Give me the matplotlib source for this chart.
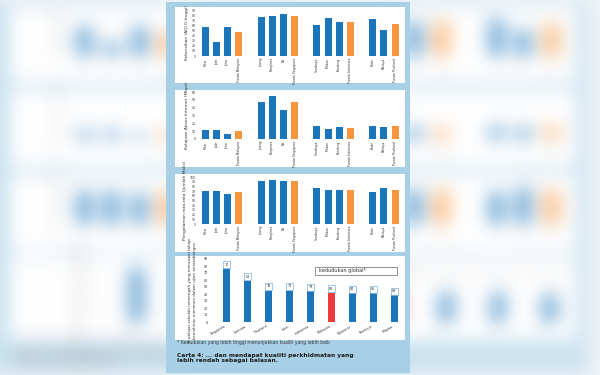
import matplotlib
matplotlib.use("Agg")
import matplotlib.pyplot as plt
import numpy as np
from matplotlib.patches import Rectangle

# Data (labels are too blurred to read exactly).
city_groups = [
    ["Muar", "Ipoh", "Johor", "Purata Malaysia"],
    ["Jurong", "Tampines", "NS", "Purata Singapura"],
    ["Surabaya", "Medan", "Bandung", "Purata Indonesia"],
    ["Krabi", "Pattaya", "Purata Thailand"],
]
kebersihan = [[56, 28, 56, 46], [76, 78, 82, 79], [60, 74, 67, 67], [73, 51, 63]]
internet = [[12, 12, 7, 10], [47, 55, 37, 47], [16, 13, 15, 14], [17, 15, 16]]
pengalaman = [[71, 71, 64, 69], [91, 93, 91, 92], [77, 72, 72, 73], [69, 77, 73]]

countries = ["Singapura", "Vietnam", "Thailand", "Laos", "Indonesia",
             "Malaysia", "Myanmar", "Kemboja", "Filipina"]
scores = [76, 59, 45, 45, 44, 42, 41, 41, 38]
ranks = ["17", "53", "78", "73", "79", "83", "84", "85", "89"]

BLUE = "#1b75bb"
ORANGE = "#f7953d"
RED = "#ec3b3b"
PANEL = "#a7cfe6"
TXT = "#333333"
W, H = 600, 375
CX = 288


def rect(x0, y0, x1, y1, stretch):
    # pixel box (top-down) -> figure fraction, stretched around CX
    a = CX + (x0 - CX) * stretch
    b = CX + (x1 - CX) * stretch
    return [a / W, 1 - y1 / H, (b - a) / W, (y1 - y0) / H]


def city_chart(fig, box, values, ymax, ylabel):
    ax = fig.add_axes(box)
    ax.patch.set_alpha(0)
    xs, labels, colors, hs = [], [], [], []
    for g, (names, vals) in enumerate(zip(city_groups, values)):
        for j, (n, v) in enumerate(zip(names, vals)):
            xs.append(5 * g + j)
            labels.append(n)
            hs.append(v)
            colors.append(ORANGE if n.startswith("Purata") else BLUE)
    ax.bar(xs, hs, width=0.62, color=colors)
    ax.set_xlim(-0.65, 17.8)
    ax.set_ylim(0, ymax)
    ax.set_yticks(np.arange(0, ymax + 1, 10))
    ax.set_xticks(xs)
    ax.set_xticklabels(labels, rotation=90, fontsize=2.2, color=TXT)
    ax.tick_params(length=0, labelsize=2.2, colors=TXT, pad=1.5)
    ax.set_ylabel(ylabel, fontsize=3.2, color=TXT, labelpad=2)
    for s in ax.spines.values():
        s.set_visible(False)
    return ax


def draw_infographic(fig, stretch):
    fig.patches.append(Rectangle((0, 0), 1, 1, transform=fig.transFigure,
                                 facecolor="#e6edf2", zorder=-3))
    p = rect(166, 2, 410, 373, stretch)
    fig.patches.append(Rectangle((p[0], p[1]), p[2], p[3], transform=fig.transFigure,
                                 facecolor=PANEL, zorder=-2))
    for y0, y1 in [(7, 83), (90, 167), (174, 252), (256, 340)]:
        b = rect(175, y0, 405, y1, stretch)
        fig.patches.append(Rectangle((b[0], b[1]), b[2], b[3], transform=fig.transFigure,
                                     facecolor="white", zorder=-1))

    city_chart(fig, rect(198, 10, 404, 56, stretch), kebersihan, 90,
               "Kebersihan (AQI 0-tinggi)")
    city_chart(fig, rect(198, 92, 404, 139, stretch), internet, 60,
               "Kelajuan Akses Internet (Mbps)")
    city_chart(fig, rect(198, 177, 404, 224, stretch), pengalaman, 100,
               "Pengalaman rata-rata (Jumlah Maks)")

    ax = fig.add_axes(rect(210, 259, 400, 322, stretch))
    ax.patch.set_alpha(0)
    x = np.arange(len(countries))
    cols = [RED if c == "Malaysia" else BLUE for c in countries]
    ax.bar(x, scores, width=0.32, color=cols)
    for xi, s, r in zip(x, scores, ranks):
        ax.text(xi, s + 3, r, ha="center", va="bottom", fontsize=2.4, color=TXT,
                bbox=dict(boxstyle="square,pad=0.45", fc="white", ec="#5b9bd5", lw=0.4))
    ax.set_xlim(-0.78, 8.27)
    ax.set_ylim(0, 90)
    ax.set_yticks(np.arange(0, 91, 10))
    ax.set_xticks(x)
    ax.set_xticklabels(countries, rotation=30, ha="right", fontsize=3, color=TXT)
    ax.tick_params(length=0, labelsize=2.4, colors=TXT, pad=1.5)
    ax.set_ylabel("% pelajar sekolah menengah yang mencapai tahap\nkemahiran minimum dalam ujian antarabangsa",
                  fontsize=2.9, color=TXT, labelpad=5)
    for s in ax.spines.values():
        s.set_visible(False)
    ax.add_patch(Rectangle((0.553, 0.746), 0.431, 0.127, transform=ax.transAxes,
                           facecolor="white", edgecolor="#666666", lw=0.5))
    ax.text(0.575, 0.81, "kedudukan global*", transform=ax.transAxes,
            fontsize=3.6, color=TXT, va="center")

    f = rect(177, 340, 177, 346, stretch)
    fig.text(f[0], f[1] + f[3], "* Kedudukan yang lebih tinggi menunjukkan kualiti yang lebih baik",
             fontsize=3.3, color="#3a3a3a", va="top")
    c = rect(177, 353, 177, 366, stretch)
    fig.text(c[0], c[1] + c[3], "Carta 4: ... dan mendapat kualiti perkhidmatan yang\n"
             "lebih rendah sebagai balasan.", fontsize=4.25, fontweight="bold",
             color="#1c1c1c", va="top", linespacing=1.0)


def blur(img, sigma):
    r = int(3 * sigma)
    k = np.exp(-0.5 * (np.arange(-r, r + 1) / sigma) ** 2)
    k /= k.sum()
    for axis in (0, 1):
        pad = [(0, 0)] * 3
        pad[axis] = (r, r)
        p = np.pad(img, pad, mode="edge")
        n = img.shape[axis]
        out = np.zeros_like(img)
        for i, w in enumerate(k):
            out += w * np.take(p, np.arange(i, i + n), axis=axis)
        img = out
    return img


# blurred, horizontally stretched copy used as backdrop
bg = plt.figure(figsize=(6, 3.75), dpi=100)
draw_infographic(bg, 2.46)
bg.canvas.draw()
arr = np.asarray(bg.canvas.buffer_rgba())[..., :3].astype(float) / 255
plt.close(bg)
arr = blur(arr, 9)
arr = 1 - (1 - arr) * 0.6

fig = plt.figure(figsize=(6, 3.75), dpi=100)
bax = fig.add_axes([0, 0, 1, 1], zorder=-10)
bax.imshow(arr, aspect="auto", interpolation="bilinear")
bax.axis("off")
draw_infographic(fig, 1.0)
fig.patches[0].set_visible(False)

fig.savefig("out.png", dpi=100)
